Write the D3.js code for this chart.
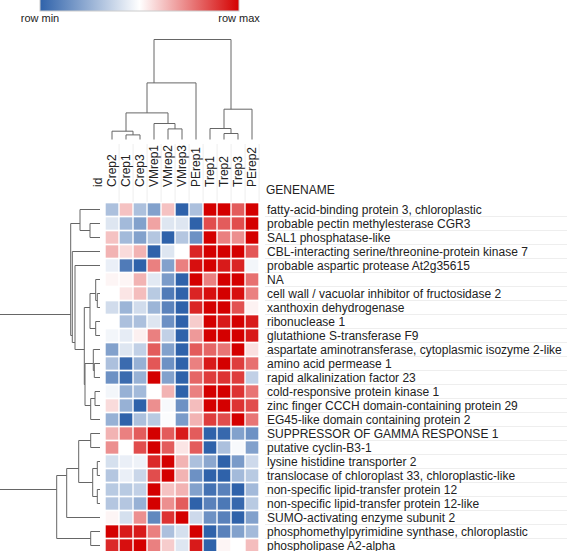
<!DOCTYPE html>
<html>
<head>
<meta charset="utf-8">
<script src="https://cdn.jsdelivr.net/npm/d3@7"></script>
<style>
  html, body { margin: 0; padding: 0; background: #fff; }
  svg { display: block; font-family: "Liberation Sans", Arial, Helvetica, sans-serif; }
</style>
</head>
<body>
<svg id="chart" width="579" height="551"></svg>
<script>
// ---------------- DATA ----------------
const columns = ["Crep2", "Crep1", "Crep3", "VMrep1", "VMrep2", "VMrep3", "PErep1", "Trep1", "Trep2", "Trep3", "PErep2"];

const genes = [
  "fatty-acid-binding protein 3, chloroplastic",
  "probable pectin methylesterase CGR3",
  "SAL1 phosphatase-like",
  "CBL-interacting serine/threonine-protein kinase 7",
  "probable aspartic protease At2g35615",
  "NA",
  "cell wall / vacuolar inhibitor of fructosidase 2",
  "xanthoxin dehydrogenase",
  "ribonuclease 1",
  "glutathione S-transferase F9",
  "aspartate aminotransferase, cytoplasmic isozyme 2-like",
  "amino acid permease 1",
  "rapid alkalinization factor 23",
  "cold-responsive protein kinase 1",
  "zinc finger CCCH domain-containing protein 29",
  "EG45-like domain containing protein 2",
  "SUPPRESSOR OF GAMMA RESPONSE 1",
  "putative cyclin-B3-1",
  "lysine histidine transporter 2",
  "translocase of chloroplast 33, chloroplastic-like",
  "non-specific lipid-transfer protein 12",
  "non-specific lipid-transfer protein 12-like",
  "SUMO-activating enzyme subunit 2",
  "phosphomethylpyrimidine synthase, chloroplastic",
  "phospholipase A2-alpha"
];

// estimated relative expression (row-scaled: min -> blue, max -> red)
const values = [
  [0.30, 0.62, 0.30, 0.20, 0.62, 0.00, 0.30, 1.00, 1.00, 0.82, 1.00],
  [0.42, 0.28, 0.20, 0.68, 0.42, 0.42, 0.00, 0.85, 0.82, 0.85, 1.00],
  [0.62, 0.28, 0.20, 0.32, 0.00, 0.32, 0.15, 1.00, 0.75, 0.72, 1.00],
  [0.65, 0.57, 0.65, 0.00, 0.42, 0.50, 0.93, 1.00, 1.00, 1.00, 0.83],
  [0.45, 0.08, 0.00, 0.75, 0.20, 0.75, 0.97, 1.00, 0.95, 0.93, 0.47],
  [0.52, 0.52, 0.65, 0.43, 0.18, 0.00, 1.00, 0.75, 1.00, 1.00, 0.78],
  [0.50, 0.55, 0.63, 0.33, 0.08, 0.00, 0.93, 0.97, 1.00, 0.97, 0.75],
  [0.42, 0.30, 0.42, 0.30, 0.15, 0.05, 0.93, 1.00, 1.00, 0.85, 0.55],
  [0.50, 0.30, 0.30, 0.42, 0.15, 0.00, 0.60, 1.00, 0.95, 1.00, 0.95],
  [0.47, 0.44, 0.53, 0.75, 0.35, 0.00, 0.70, 1.00, 1.00, 1.00, 0.95],
  [0.20, 0.42, 0.35, 0.82, 0.20, 0.00, 0.82, 0.80, 0.77, 1.00, 0.56],
  [0.30, 0.03, 0.25, 0.83, 0.15, 0.00, 0.75, 0.95, 1.00, 0.88, 0.78],
  [0.15, 0.03, 0.25, 1.00, 0.20, 0.00, 0.80, 0.88, 0.90, 0.88, 0.35],
  [0.47, 0.25, 0.28, 0.50, 0.65, 0.00, 0.75, 1.00, 1.00, 0.90, 0.77],
  [0.57, 0.25, 0.00, 0.72, 0.48, 0.15, 0.63, 1.00, 1.00, 0.90, 0.85],
  [0.25, 0.00, 0.30, 0.33, 0.49, 0.18, 0.65, 0.88, 0.85, 1.00, 0.77],
  [0.65, 0.75, 0.82, 1.00, 0.82, 0.95, 0.82, 0.00, 0.02, 0.20, 0.15],
  [0.72, 0.50, 0.85, 1.00, 0.82, 0.55, 0.82, 0.00, 0.30, 0.48, 0.20],
  [0.40, 0.45, 0.46, 0.92, 1.00, 0.65, 0.30, 0.22, 0.00, 0.18, 0.38],
  [0.32, 0.45, 0.37, 0.85, 1.00, 0.65, 0.15, 0.00, 0.00, 0.28, 0.33],
  [0.33, 0.33, 0.35, 1.00, 0.62, 0.65, 0.20, 0.05, 0.10, 0.00, 0.28],
  [0.32, 0.32, 0.25, 1.00, 0.72, 0.82, 0.00, 0.10, 0.07, 0.02, 0.33],
  [0.52, 0.40, 0.72, 0.12, 0.90, 1.00, 0.38, 0.15, 0.10, 0.00, 0.20],
  [1.00, 0.95, 0.95, 0.75, 0.30, 0.40, 1.00, 0.00, 0.10, 0.20, 0.28],
  [0.92, 0.97, 1.00, 0.75, 0.60, 0.42, 0.95, 0.00, 0.52, 0.50, 0.63]
];

// hclust-style merges: negative = leaf -(index+1), positive = earlier merge (1-based); third = height
const colMerge = [
  [-2, -3, 0.046],
  [-1, 1, 0.083],
  [-5, -6, 0.106],
  [-4, 3, 0.16],
  [2, 4, 0.266],
  [5, -7, 0.566],
  [-9, -10, 0.06],
  [-8, 7, 0.11],
  [8, -11, 0.303],
  [6, 9, 1.0]
];

const rowMerge = [
  [-2, -3, 0.10],
  [-1, 1, 0.20],
  [-7, -8, 0.027],
  [-6, 3, 0.043],
  [-9, -10, 0.043],
  [4, 5, 0.10],
  [-12, -13, 0.057],
  [-11, 7, 0.067],
  [-14, -15, 0.05],
  [9, -16, 0.093],
  [8, 10, 0.15],
  [6, 11, 0.157],
  [-5, 12, 0.25],
  [-4, 13, 0.277],
  [2, 14, 0.293],
  [-17, -18, 0.093],
  [-19, -20, 0.027],
  [-21, -22, 0.027],
  [17, 18, 0.073],
  [16, 19, 0.213],
  [20, -23, 0.333],
  [-24, -25, 0.093],
  [21, 22, 0.433],
  [15, 23, 1.01]
];

const legendLabels = ["row min", "row max"];
const colorStops = ["#2f62aa", "#ffffff", "#d40000"];

// ---------------- DRAW ----------------
const svg = d3.select("#chart");
const FONT = 12;

const x = d3.scaleBand().domain(columns).range([105, 259]).paddingInner(0.1).paddingOuter(0.05);
const y = d3.scaleBand().domain(genes).range([202.5, 552.5]).paddingInner(0.12).paddingOuter(0.06);
const color = d3.scaleLinear().domain([0, 0.5, 1]).range(colorStops).clamp(true);

// Legend
const defs = svg.append("defs");
const grad = defs.append("linearGradient").attr("id", "lg").attr("x1", "0%").attr("x2", "100%");
grad.selectAll("stop").data(colorStops).join("stop")
  .attr("offset", (d, i) => (i / (colorStops.length - 1) * 100) + "%")
  .attr("stop-color", d => d);
const legX = d3.scaleLinear().domain([0, 1]).range([40, 239]);
svg.append("rect").attr("x", legX(0)).attr("y", -2).attr("width", legX(1) - legX(0)).attr("height", 13)
  .attr("fill", "url(#lg)").attr("stroke", "#cccccc").attr("stroke-width", 1);
svg.selectAll("text.leg").data(legendLabels).join("text").attr("class", "leg")
  .attr("x", (d, i) => legX(i)).attr("y", 22).attr("text-anchor", "middle")
  .attr("font-size", 11).attr("fill", "#222").text(d => d);

// Column label separators
svg.append("g").selectAll("line").data(columns).join("line")
  .attr("x1", d => x(d) + x.bandwidth() + 0.8).attr("x2", d => x(d) + x.bandwidth() + 0.8)
  .attr("y1", 144).attr("y2", 202)
  .attr("stroke", "#eeeeee").attr("stroke-width", 1);

// Row label separators
svg.append("g").selectAll("line").data(genes).join("line")
  .attr("x1", 265).attr("x2", 567)
  .attr("y1", d => Math.round(y(d) + y.bandwidth()) + 0.5)
  .attr("y2", d => Math.round(y(d) + y.bandwidth()) + 0.5)
  .attr("stroke", "#eeeeee").attr("stroke-width", 1);

// Cells
const cells = [];
values.forEach((row, i) => {
  const mn = d3.min(row), mx = d3.max(row);
  row.forEach((v, j) => cells.push({ g: genes[i], c: columns[j], t: (v - mn) / (mx - mn) }));
});
svg.append("g").selectAll("rect").data(cells).join("rect")
  .attr("x", d => x(d.c)).attr("y", d => y(d.g))
  .attr("width", x.bandwidth()).attr("height", y.bandwidth())
  .attr("fill", d => color(d.t));

// Column labels
svg.append("g").selectAll("text").data(columns).join("text")
  .attr("transform", d => `translate(${x(d) + x.bandwidth() / 2 + 4},187) rotate(-90)`)
  .attr("text-anchor", "start").attr("font-size", FONT).attr("fill", "#222").text(d => d);
svg.append("text").attr("transform", "translate(102,187) rotate(-90)")
  .attr("text-anchor", "start").attr("font-size", FONT).attr("fill", "#222").text("id");
svg.append("text").attr("x", 266).attr("y", 194).attr("font-size", FONT).attr("fill", "#222").text("GENENAME");

// Row labels
svg.append("g").selectAll("text").data(genes).join("text")
  .attr("x", 267).attr("y", d => y(d) + y.bandwidth() / 2 + 4)
  .attr("font-size", FONT).attr("fill", "#222").text(d => d);

// Dendrogram builder
function buildTree(merges, leafPos) {
  const nodes = merges.map(() => null);
  const get = k => k < 0 ? { pos: leafPos[-k - 1], h: 0, leaves: [leafPos[-k - 1]] } : nodes[k - 1];
  merges.forEach((m, i) => {
    const a = get(m[0]), b = get(m[1]);
    const leaves = a.leaves.concat(b.leaves);
    nodes[i] = { a, b, h: m[2], leaves, pos: d3.mean(leaves) };
  });
  return nodes;
}

const dendroStroke = "#666";

// Column dendrogram
const colLeafPos = columns.map(c => x(c) + x.bandwidth() / 2);
const colNodes = buildTree(colMerge, colLeafPos);
const cy = d3.scaleLinear().domain([0, 1]).range([139.5, 39.5]);
const gCol = svg.append("g").attr("fill", "none").attr("stroke", dendroStroke).attr("stroke-width", 1);
gCol.selectAll("path").data(colNodes).join("path")
  .attr("d", n => `M${n.a.pos},${cy(n.a.h)}V${cy(n.h)}H${n.b.pos}V${cy(n.b.h)}`);

// Row dendrogram
const rowLeafPos = genes.map(g => y(g) + y.bandwidth() / 2);
const rowNodes = buildTree(rowMerge, rowLeafPos);
const rx = d3.scaleLinear().domain([0, 1]).range([100, 0]);
const gRow = svg.append("g").attr("fill", "none").attr("stroke", dendroStroke).attr("stroke-width", 1);
gRow.selectAll("path").data(rowNodes).join("path")
  .attr("d", n => `M${rx(n.h)},${n.a.pos}H${rx(n.a.h)}M${rx(n.h)},${n.a.pos}V${n.b.pos}H${rx(n.b.h)}`);
</script>
</body>
</html>
